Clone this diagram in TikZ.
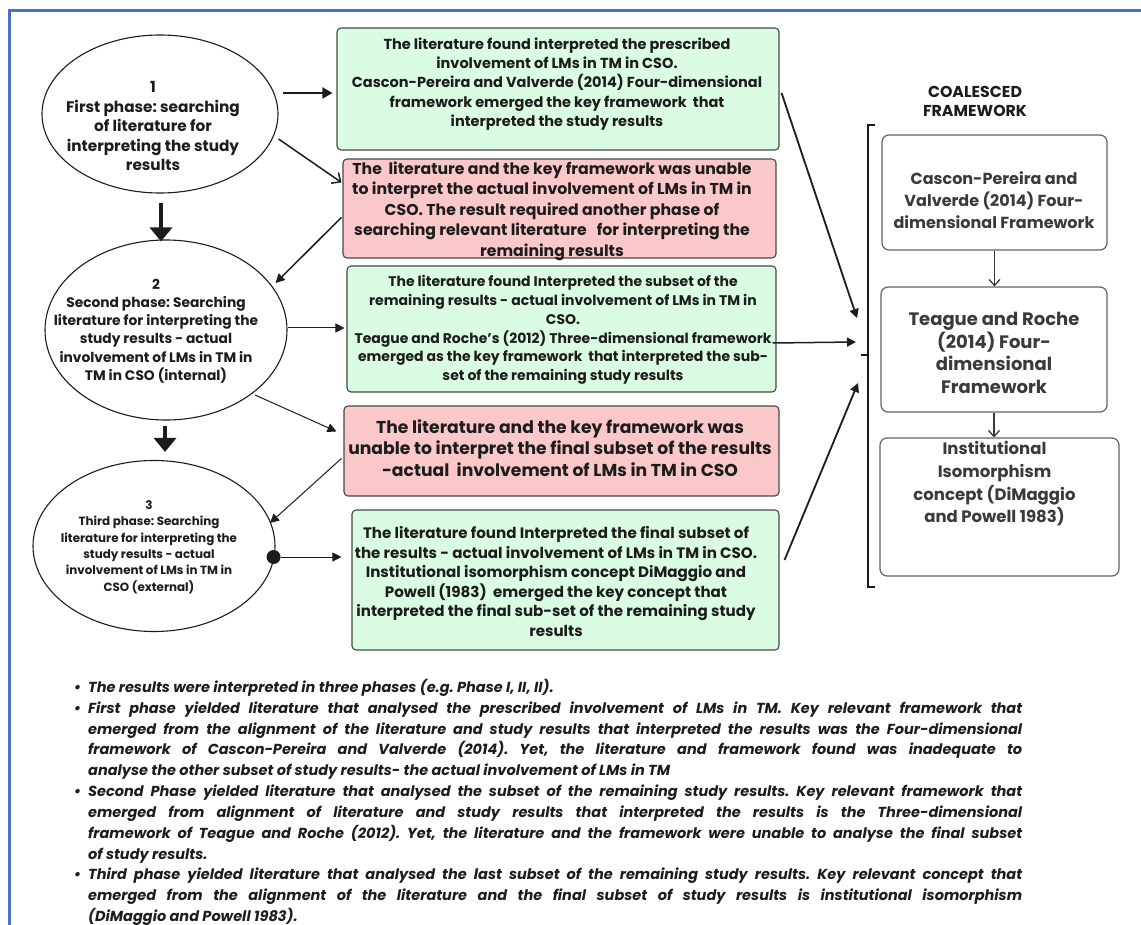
\documentclass[tikz,border=0pt]{standalone}
\usepackage{fontspec}
\setmainfont{Poppins}
\usetikzlibrary{arrows.meta,shapes.geometric,calc}

\definecolor{mint}{RGB}{218,252,226}
\definecolor{rose}{RGB}{250,200,200}
\definecolor{frameblue}{RGB}{68,114,196}
\definecolor{edge}{RGB}{72,72,72}
\definecolor{ink}{RGB}{28,28,28}
\definecolor{softink}{RGB}{58,58,58}

\frenchspacing
% bullet hanging left of the text column
\newcommand\bul{\llap{\textbullet\hspace{7pt}}}
% a justified line of the notes column
\newcommand\jline[1]{\setbox0=\hbox{#1}\ifdim\wd0>934pt \resizebox{934pt}{\height}{\box0}\else\makebox[934pt][s]{#1}\fi}

\begin{document}
\begin{tikzpicture}[x=1pt,y=-1pt,
  phase/.style={ellipse,draw=ink,line width=1.1pt,inner sep=0pt},
  box/.style={rectangle,rounded corners=4pt,draw=edge,line width=1.1pt,inner sep=0pt},
  okbox/.style={box,fill=mint},
  failbox/.style={box,fill=rose},
  fwbox/.style={rectangle,rounded corners=7pt,draw=edge!85,line width=1.2pt,inner sep=0pt,fill=white},
  label/.style={align=center,inner sep=0pt,text=ink},
  fwlabel/.style={align=center,inner sep=0pt,text=softink},
  note/.style={anchor=base west,inner sep=0pt,text=ink,font=\bfseries\itshape\fontsize{14.5}{20}\selectfont},
  link/.style={draw=ink,line width=1pt,-{Triangle[length=9pt,width=9pt]}},
  boldlink/.style={draw=ink,line width=1.8pt,-{Triangle[length=10pt,width=11pt]}},
  openlink/.style={draw=ink,line width=1.5pt,-{Straight Barb[length=7pt,width=13pt]}},
  stepdown/.style={draw=ink,line width=4pt,-{Triangle[length=14pt,width=22pt]}},
  fwlink/.style={draw=softink,line width=1.3pt,-{Straight Barb[length=6pt,width=11pt]}}
]
\useasboundingbox (0,0) rectangle (1141,925);

% page frame
\draw[frameblue,line width=3.5pt] (9.5,925) -- (9.5,10.5) -- (1141,10.5);

% phases
\node[phase,minimum width=236pt,minimum height=158pt] (e1) at (160,114) {};
\node[label,font=\bfseries\fontsize{15.3}{19.5}\selectfont] (e1t) at (153,126)
  {1\\First phase: searching\\of literature for\\interpreting the study\\results};

\node[phase,minimum width=242pt,minimum height=180pt] (e2) at (166,330) {};
\node[label,font=\bfseries\fontsize{13.8}{18.2}\selectfont] (e2t) at (156,331)
  {2\\Second phase: Searching\\literature for interpreting the\\study results - actual\\involvement of LMs in TM in\\TM in CSO (internal)};

\node[phase,minimum width=242pt,minimum height=171pt] (e3) at (154,546) {};
\node[label,font=\bfseries\fontsize{11.9}{16.4}\selectfont] (e3t) at (149,547)
  {3\\Third phase: Searching\\literature for interpreting the\\study results - actual\\involvement of LMs in TM in\\CSO (external)};

% outcome boxes
\node[okbox,minimum width=442pt,minimum height=122pt] (g1) at (558,89) {};
\node[label,font=\bfseries\fontsize{14.5}{19.3}\selectfont] (g1t) at (557,84)
  {The literature found interpreted the prescribed\\involvement of LMs in TM in CSO.\\Cascon-Pereira and Valverde (2014) Four-dimensional\\framework emerged the key framework\ \ that\\interpreted the study results};

\node[failbox,minimum width=433pt,minimum height=99pt] (r1) at (559.5,208.5) {};
\node[label,font=\bfseries\fontsize{15.7}{20.5}\selectfont] (r1t) at (552,211)
  {The\ \ literature and the key framework was unable\\to interpret the actual involvement of LMs in TM in\\CSO. The result required another phase of\\searching relevant literature\ \ \ for interpreting the\\remaining results};

\node[okbox,minimum width=429pt,minimum height=126pt] (g2) at (561.5,329) {};
\node[label,font=\bfseries\fontsize{14}{18.8}\selectfont] (g2t) at (563,330)
  {The literature found Interpreted the subset of the\\remaining results - actual involvement of LMs in TM in\\CSO.\\Teague and Roche’s (2012) Three-dimensional framework\\emerged as the key framework\ \ that interpreted the sub-\\set of the remaining study results};

\node[failbox,minimum width=435pt,minimum height=90pt] (r2) at (561.5,451) {};
\node[label,font=\bfseries\fontsize{17.2}{21.5}\selectfont] (r2t) at (560,448)
  {The literature and the key framework was\\unable to interpret the final subset of the results\\-actual\ \ involvement of LMs in TM in CSO};

\node[okbox,minimum width=427pt,minimum height=140pt] (g3) at (565.5,580) {};
\node[label,font=\bfseries\fontsize{15.1}{19.5}\selectfont] (g3t) at (556,581.5)
  {The literature found Interpreted the final subset of\\the results - actual involvement of LMs in TM in CSO.\\Institutional isomorphism concept DiMaggio and\\Powell (1983)\ \ emerged the key concept that\\interpreted the final sub-set of the remaining study\\results};

% coalesced framework column
\node[label,font=\bfseries\fontsize{15.8}{19}\selectfont] (head) at (975,101) {COALESCED\\FRAMEWORK};

\node[fwbox,minimum width=225pt,minimum height=115pt] (fa) at (994.5,192.5) {};
\node[fwlabel,font=\bfseries\fontsize{16}{22}\selectfont] (fat) at (994,200)
  {Cascon-Pereira and\\Valverde (2014) Four-\\dimensional Framework};

\node[fwbox,minimum width=226pt,minimum height=125pt] (fb) at (994,349.5) {};
\node[fwlabel,font=\bfseries\fontsize{18}{22.7}\selectfont] (fbt) at (994,353)
  {Teague and Roche\\(2014) Four-\\dimensional\\Framework};

\node[fwbox,minimum width=239pt,minimum height=138pt] (fc) at (999.5,507) {};
\node[fwlabel,font=\bfseries\fontsize{16.5}{22.7}\selectfont] (fct) at (994.5,484)
  {Institutional\\Isomorphism\\concept (DiMaggio\\and Powell 1983)};

% bracket gathering the framework column
\coordinate (brtop) at (868,125);
\coordinate (brmid) at (868,355);
\coordinate (brbot) at (868,587);
\draw[ink,line width=2.2pt] ($(brtop)+(7,0)$) -- (brtop) -- (brbot) -- ($(brbot)+(7,0)$);
\draw[ink,line width=2.2pt] (brmid) -- ($(brmid)+(-7,0)$);

% phase progression
\draw[stepdown] ($(e1.south)+(1,9)$) -- ($(e1.south|-e2.north)+(1,2)$);
\draw[stepdown] ($(e2.south)+(-1,5)$) -- ($(e2.south|-e3.north)+(-1,-8)$);

% phase outcomes
\draw[boldlink] ($(e1.east)+(4,-21)$) -- ($(g1.west)+(-4,4)$);
\draw[openlink] ($(e1.east)+(0,25)$) -- ($(r1.north west)+(-1,24)$);
\draw[link,line width=1.5pt] ($(r1.north west)+(-1,59)$) -- ($(e2.east)+(-12,-47)$);
\draw[link] ($(e2.east)+(0,-2)$) -- ($(g2.west)+(-2,-1)$);
\draw[link] ($(e2.center)+(89,65)$) -- ($(r2.north west)+(-7,26)$);
\draw[link] ($(r2.north west)+(-2,53)$) -- ($(e3.center)+(116,-23)$);
\node[circle,fill=ink,minimum size=14pt,inner sep=0pt] (dot) at ($(e3.east)+(-2,11)$) {};
\draw[link] (dot) -- ($(g3.west)+(-10,-23)$);

% outcomes feeding the coalesced framework
\draw[link,line width=1.8pt] ($(g1.east)+(2,4)$) -- ($(brmid)+(-11,-37)$);
\draw[link,line width=1.5pt] ($(g2.east)+(-4,14)$) -- ($(brmid)+(-12,-13)$);
\draw[link,line width=1.8pt] ($(g3.east)+(5,-20)$) -- ($(brmid)+(-10,28)$);

\draw[fwlink] (fa.south) -- (fa.south|-fb.north);
\draw[fwlink] (fb.south) -- (fb.south|-fc.north);

% notes
\node[note] (n1) at (88,692.5) {\bul The results were interpreted in three phases (e.g. Phase I, II, II).};
\node[note] (n2) at (88,713) {\bul\jline{First phase yielded literature that analysed the prescribed involvement of LMs in TM. Key relevant framework that}};
\node[note] (n3) at (88,734) {\jline{emerged from the alignment of the literature and study results that interpreted the results was the Four-dimensional}};
\node[note] (n4) at (88,754.5) {\jline{framework of Cascon-Pereira and Valverde (2014). Yet, the literature and framework found was inadequate to}};
\node[note] (n5) at (88,775.5) {analyse the other subset of study results- the actual involvement of LMs in TM};
\node[note] (n6) at (88,796) {\bul\jline{Second Phase yielded literature that analysed the subset of the remaining study results. Key relevant framework that}};
\node[note] (n7) at (88,817) {\jline{emerged from alignment of literature and study results that interpreted the results is the Three-dimensional}};
\node[note] (n8) at (88,838) {\jline{framework of Teague and Roche (2012). Yet, the literature and the framework were unable to analyse the final subset}};
\node[note] (n9) at (88,859) {of study results.};
\node[note] (n10) at (88,879.5) {\bul\jline{Third phase yielded literature that analysed the last subset of the remaining study results. Key relevant concept that}};
\node[note] (n11) at (88,900.5) {\jline{emerged from the alignment of the literature and the final subset of study results is institutional isomorphism}};
\node[note] (n12) at (88,921.5) {(DiMaggio and Powell 1983).};
\end{tikzpicture}
\end{document}
